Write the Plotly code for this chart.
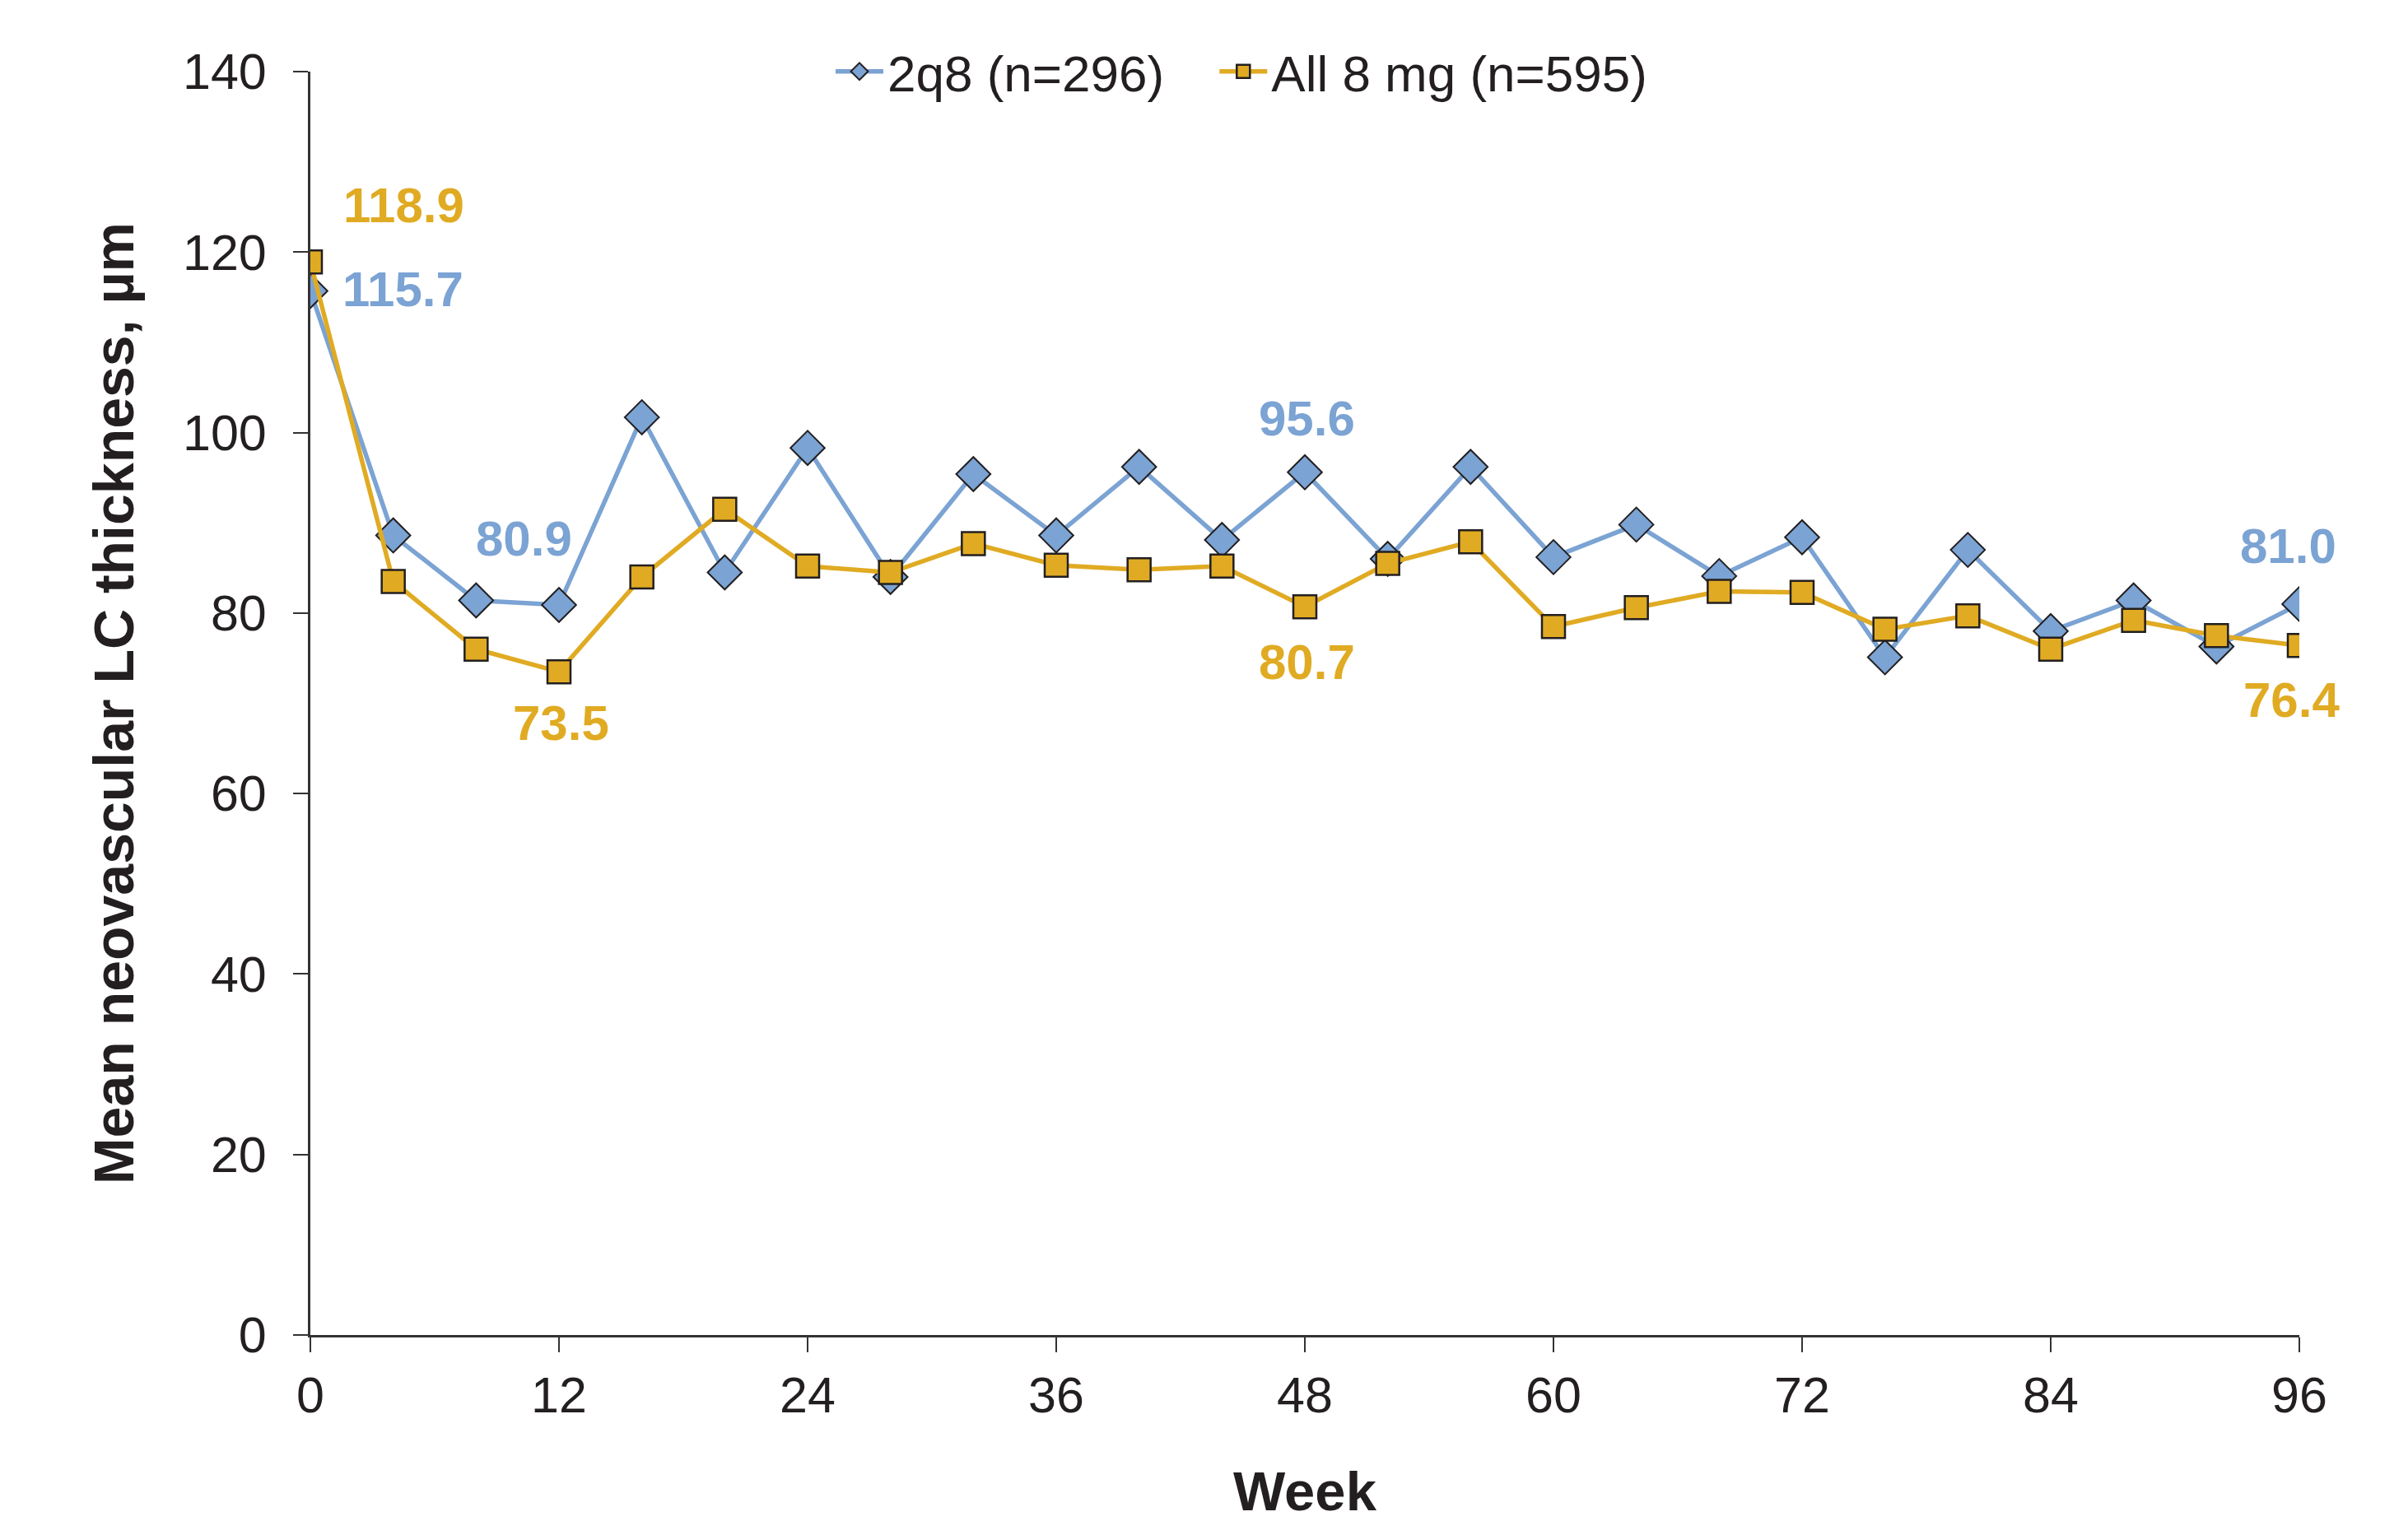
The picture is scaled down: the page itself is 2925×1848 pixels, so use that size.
import plotly.graph_objects as go

weeks = [0, 4, 8, 12, 16, 20, 24, 28, 32, 36, 40, 44, 48, 52, 56, 60, 64, 68, 72, 76, 80, 84, 88, 92, 96]
q8_2 = [115.7, 88.6, 81.4, 80.9, 101.7, 84.5, 98.3, 84.0, 95.4, 88.6, 96.2, 88.1, 95.6, 86.0, 96.2, 86.2,
        89.8, 84.1, 88.4, 75.1, 87.0, 78.0, 81.4, 76.3, 81.0]
all8 = [118.9, 83.5, 76.0, 73.5, 84.0, 91.5, 85.2, 84.5, 87.7, 85.3, 84.8, 85.2, 80.7, 85.5, 87.9, 78.5,
        80.6, 82.4, 82.3, 78.2, 79.7, 76.0, 79.2, 77.5, 76.4]
series_names = ["2q8 (n=296)", "All 8 mg (n=595)"]
x_ticks = [0, 12, 24, 36, 48, 60, 72, 84, 96]
y_ticks = [0, 20, 40, 60, 80, 100, 120, 140]
labelled_weeks = [0, 12, 48, 96]

BLUE = "#7BA3D3"
GOLD = "#E0AB23"
DARK = "#231F20"
FONT = "Liberation Sans, Arial, sans-serif"

fig = go.Figure()
fig.add_trace(go.Scatter(
    x=weeks, y=q8_2, name=series_names[0], mode="lines+markers", legend="legend",
    line=dict(color=BLUE, width=5.5),
    marker=dict(symbol="diamond", size=32, color=BLUE, line=dict(color=DARK, width=2)),
))
fig.add_trace(go.Scatter(
    x=weeks, y=all8, name=series_names[1], mode="lines+markers", legend="legend2",
    line=dict(color=GOLD, width=5.5),
    marker=dict(symbol="square", size=28, color=GOLD, line=dict(color=DARK, width=2.5)),
))

# value labels attached to data points with pixel offsets
offsets_blue = {0: (112, 2), 12: (-43, 80), 48: (2, 65), 96: (-14, 70)}
offsets_gold = {0: (113, 69), 12: (2, -62), 48: (2, -67), 96: (-10, -66)}
for vals, col, offs in [(q8_2, BLUE, offsets_blue), (all8, GOLD, offsets_gold)]:
    for w in labelled_weeks:
        v = vals[weeks.index(w)]
        dx, dy = offs[w]
        fig.add_annotation(x=w, y=v, text=f"{v:.1f}", showarrow=False, xshift=dx, yshift=dy,
                           font=dict(family=FONT, size=60, color=col, weight="bold"))

legend_common = dict(orientation="h", xanchor="left", y=1.0, yanchor="middle",
                     font=dict(size=62, color=DARK), itemwidth=58, itemsizing="trace",
                     bgcolor="rgba(0,0,0,0)")
fig.update_layout(
    width=2925, height=1848,
    paper_bgcolor="white", plot_bgcolor="white",
    margin=dict(l=369, r=140, t=79, b=234, autoexpand=False),
    font=dict(family=FONT, color=DARK, size=61),
    legend=dict(x=0.262, **legend_common),
    legend2=dict(x=0.455, **legend_common),
    showlegend=True,
)
fig.update_xaxes(
    range=[0, 96], tickvals=x_ticks, ticktext=[str(t) for t in x_ticks],
    showline=True, linecolor="#333333", linewidth=3, ticks="outside", ticklen=18, tickwidth=2,
    tickcolor="#333333", showgrid=False, zeroline=False,
    tickfont=dict(size=61, color=DARK),
    title=dict(text="Week", font=dict(size=67, color=DARK, weight="bold"), standoff=60),
)
fig.update_yaxes(
    range=[0, 140], tickvals=y_ticks, ticktext=[str(t) for t in y_ticks],
    showline=True, linecolor="#333333", linewidth=3, ticks="outside", ticklen=18, tickwidth=2,
    tickcolor="#333333", showgrid=False, zeroline=False, ticklabelstandoff=20,
    tickfont=dict(size=61, color=DARK),
    title=dict(text="Mean neovascular LC thickness, µm", font=dict(size=68, color=DARK, weight="bold"), standoff=38),
)

fig.write_html("out.html")
